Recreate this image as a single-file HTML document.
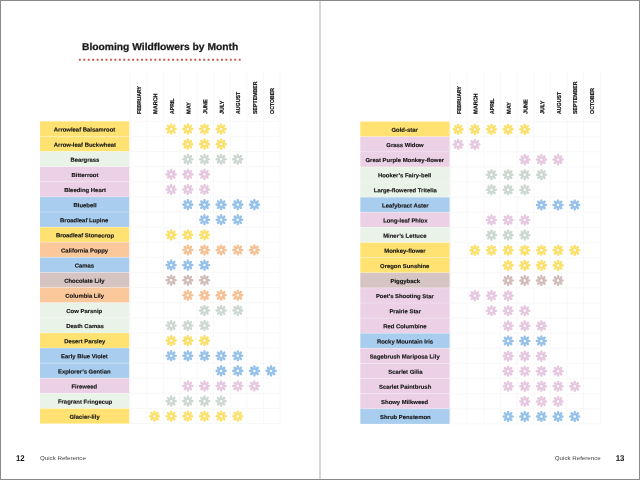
<!DOCTYPE html>
<html><head><meta charset="utf-8"><title>Blooming Wildflowers by Month</title>
<style>
html,body{margin:0;padding:0;background:#fff;}
body{width:640px;height:480px;position:relative;overflow:hidden;font-family:"Liberation Sans",sans-serif;color:#1d1d1d;}
.art{position:absolute;left:0;top:0;}
.txt{position:absolute;left:0;top:0;width:640px;height:480px;will-change:transform;}
.title{position:absolute;left:81.7px;top:40.4px;font-weight:bold;font-size:9.9px;line-height:14px;white-space:nowrap;letter-spacing:0px;transform-origin:0 50%;transform:rotate(0.03deg) scaleX(1.04);color:#1a1a1a;-webkit-text-stroke:0.25px #1a1a1a;}
.mo{position:absolute;width:0;height:0;top:113px;}
.mo span{position:absolute;left:0;top:0;display:block;white-space:nowrap;font-weight:bold;font-size:5.7px;line-height:5.7px;height:5.7px;transform-origin:0 0;color:#111;-webkit-text-stroke:0.2px #111;}
.lb{position:absolute;width:89.3px;height:15px;line-height:15px;text-align:center;white-space:nowrap;font-weight:bold;font-size:5.7px;color:#151515;}
.lb span{display:inline-block;-webkit-text-stroke:0.15px #151515;letter-spacing:0px;}
.pn{position:absolute;transform:rotate(0.03deg) scaleX(0.93);transform-origin:0 50%;font-weight:bold;font-size:8.4px;line-height:10px;top:453.2px;color:#111;letter-spacing:0px;}
.qr{position:absolute;transform:rotate(0.03deg) scaleX(1.1);font-size:5.6px;line-height:10px;top:452.8px;color:#444;white-space:nowrap;letter-spacing:0px;}
</style></head><body>
<svg class="art" width="640" height="480" viewBox="0 0 640 480">
<defs><path id="f" d="M0.00 -5.80A2.00 1.30 -90 1 0 0.00 -1.80A2.00 1.30 -90 1 0 0.00 -5.80ZM4.10 -4.10A2.00 1.30 -45 1 0 1.27 -1.27A2.00 1.30 -45 1 0 4.10 -4.10ZM5.80 0.00A2.00 1.30 0 1 0 1.80 0.00A2.00 1.30 0 1 0 5.80 0.00ZM4.10 4.10A2.00 1.30 45 1 0 1.27 1.27A2.00 1.30 45 1 0 4.10 4.10ZM0.00 5.80A2.00 1.30 90 1 0 0.00 1.80A2.00 1.30 90 1 0 0.00 5.80ZM-4.10 4.10A2.00 1.30 135 1 0 -1.27 1.27A2.00 1.30 135 1 0 -4.10 4.10ZM-5.80 0.00A2.00 1.30 180 1 0 -1.80 0.00A2.00 1.30 180 1 0 -5.80 0.00ZM-4.10 -4.10A2.00 1.30 225 1 0 -1.27 -1.27A2.00 1.30 225 1 0 -4.10 -4.10ZM0 -2.80A2.80 2.80 0 1 0 0 2.80A2.80 2.80 0 1 0 0 -2.80ZM0 -1.20A1.20 1.20 0 1 1 0 1.20A1.20 1.20 0 1 1 0 -1.20Z"/></defs>
<rect x="319" y="0" width="2" height="480" fill="#d6d6d6"/>
<line x1="78.9" y1="59.8" x2="242.5" y2="59.8" stroke="#c8574a" stroke-width="1.9" stroke-dasharray="1.9 2.540"/>
<rect x="40" y="121.30" width="89.3" height="15.115" fill="#ffe272"/>
<rect x="40" y="136.41" width="89.3" height="15.115" fill="#ffe272"/>
<rect x="40" y="151.53" width="89.3" height="15.115" fill="#eaf3e8"/>
<rect x="40" y="166.64" width="89.3" height="15.115" fill="#ebd0e6"/>
<rect x="40" y="181.76" width="89.3" height="15.115" fill="#ebd0e6"/>
<rect x="40" y="196.88" width="89.3" height="15.115" fill="#a9cdee"/>
<rect x="40" y="211.99" width="89.3" height="15.115" fill="#a9cdee"/>
<rect x="40" y="227.11" width="89.3" height="15.115" fill="#ffe272"/>
<rect x="40" y="242.22" width="89.3" height="15.115" fill="#fbc89c"/>
<rect x="40" y="257.33" width="89.3" height="15.115" fill="#a9cdee"/>
<rect x="40" y="272.45" width="89.3" height="15.115" fill="#d6c4c3"/>
<rect x="40" y="287.56" width="89.3" height="15.115" fill="#fbc89c"/>
<rect x="40" y="302.68" width="89.3" height="15.115" fill="#eaf3e8"/>
<rect x="40" y="317.80" width="89.3" height="15.115" fill="#eaf3e8"/>
<rect x="40" y="332.91" width="89.3" height="15.115" fill="#ffe272"/>
<rect x="40" y="348.02" width="89.3" height="15.115" fill="#a9cdee"/>
<rect x="40" y="363.14" width="89.3" height="15.115" fill="#a9cdee"/>
<rect x="40" y="378.25" width="89.3" height="15.115" fill="#ebd0e6"/>
<rect x="40" y="393.37" width="89.3" height="15.115" fill="#eaf3e8"/>
<rect x="40" y="408.49" width="89.3" height="15.115" fill="#ffe272"/>
<path d="M40 136.41h89.3M40 151.53h89.3M40 166.64h89.3M40 181.76h89.3M40 196.88h89.3M40 211.99h89.3M40 227.11h89.3M40 242.22h89.3M40 257.33h89.3M40 272.45h89.3M40 287.56h89.3M40 302.68h89.3M40 317.80h89.3M40 332.91h89.3M40 348.02h89.3M40 363.14h89.3M40 378.25h89.3M40 393.37h89.3M40 408.49h89.3" stroke="#fff" stroke-opacity="0.35" stroke-width="0.8" fill="none"/>
<path d="M130.20 72V423.60M146.85 72V423.60M163.50 72V423.60M180.15 72V423.60M196.80 72V423.60M213.45 72V423.60M230.10 72V423.60M246.75 72V423.60M263.40 72V423.60M280.05 72V423.60M130.20 121.30h149.85M130.20 136.41h149.85M130.20 151.53h149.85M130.20 166.64h149.85M130.20 181.76h149.85M130.20 196.88h149.85M130.20 211.99h149.85M130.20 227.11h149.85M130.20 242.22h149.85M130.20 257.33h149.85M130.20 272.45h149.85M130.20 287.56h149.85M130.20 302.68h149.85M130.20 317.80h149.85M130.20 332.91h149.85M130.20 348.02h149.85M130.20 363.14h149.85M130.20 378.25h149.85M130.20 393.37h149.85M130.20 408.49h149.85M130.20 423.60h149.85" stroke="#f5f5f5" stroke-width="0.75" fill="none"/>
<g fill="#fbe06c">
<use href="#f" x="171.17" y="129.06"/>
<use href="#f" x="187.82" y="129.06"/>
<use href="#f" x="204.47" y="129.06"/>
<use href="#f" x="221.12" y="129.06"/>
</g>
<g fill="#fbe06c">
<use href="#f" x="187.82" y="144.17"/>
<use href="#f" x="204.47" y="144.17"/>
<use href="#f" x="221.12" y="144.17"/>
</g>
<g fill="#ccd8d0">
<use href="#f" x="187.82" y="159.29"/>
<use href="#f" x="204.47" y="159.29"/>
<use href="#f" x="221.12" y="159.29"/>
<use href="#f" x="237.77" y="159.29"/>
</g>
<g fill="#e6c7e0">
<use href="#f" x="171.17" y="174.40"/>
<use href="#f" x="187.82" y="174.40"/>
<use href="#f" x="204.47" y="174.40"/>
</g>
<g fill="#e6c7e0">
<use href="#f" x="171.17" y="189.52"/>
<use href="#f" x="187.82" y="189.52"/>
<use href="#f" x="204.47" y="189.52"/>
</g>
<g fill="#96c1e9">
<use href="#f" x="187.82" y="204.63"/>
<use href="#f" x="204.47" y="204.63"/>
<use href="#f" x="221.12" y="204.63"/>
<use href="#f" x="237.77" y="204.63"/>
<use href="#f" x="254.42" y="204.63"/>
</g>
<g fill="#96c1e9">
<use href="#f" x="204.47" y="219.75"/>
<use href="#f" x="221.12" y="219.75"/>
<use href="#f" x="237.77" y="219.75"/>
</g>
<g fill="#fbe06c">
<use href="#f" x="171.17" y="234.86"/>
<use href="#f" x="187.82" y="234.86"/>
<use href="#f" x="204.47" y="234.86"/>
</g>
<g fill="#f5c094">
<use href="#f" x="187.82" y="249.98"/>
<use href="#f" x="204.47" y="249.98"/>
<use href="#f" x="221.12" y="249.98"/>
<use href="#f" x="237.77" y="249.98"/>
<use href="#f" x="254.42" y="249.98"/>
</g>
<g fill="#96c1e9">
<use href="#f" x="171.17" y="265.09"/>
<use href="#f" x="187.82" y="265.09"/>
<use href="#f" x="204.47" y="265.09"/>
</g>
<g fill="#d2bcb9">
<use href="#f" x="171.17" y="280.21"/>
<use href="#f" x="187.82" y="280.21"/>
<use href="#f" x="204.47" y="280.21"/>
</g>
<g fill="#f5c094">
<use href="#f" x="187.82" y="295.32"/>
<use href="#f" x="204.47" y="295.32"/>
<use href="#f" x="221.12" y="295.32"/>
<use href="#f" x="237.77" y="295.32"/>
</g>
<g fill="#ccd8d0">
<use href="#f" x="204.47" y="310.44"/>
<use href="#f" x="221.12" y="310.44"/>
<use href="#f" x="237.77" y="310.44"/>
</g>
<g fill="#ccd8d0">
<use href="#f" x="171.17" y="325.55"/>
<use href="#f" x="187.82" y="325.55"/>
<use href="#f" x="204.47" y="325.55"/>
</g>
<g fill="#fbe06c">
<use href="#f" x="171.17" y="340.67"/>
<use href="#f" x="187.82" y="340.67"/>
<use href="#f" x="204.47" y="340.67"/>
</g>
<g fill="#96c1e9">
<use href="#f" x="171.17" y="355.78"/>
<use href="#f" x="187.82" y="355.78"/>
<use href="#f" x="204.47" y="355.78"/>
<use href="#f" x="221.12" y="355.78"/>
<use href="#f" x="237.77" y="355.78"/>
</g>
<g fill="#96c1e9">
<use href="#f" x="221.12" y="370.90"/>
<use href="#f" x="237.77" y="370.90"/>
<use href="#f" x="254.42" y="370.90"/>
<use href="#f" x="271.07" y="370.90"/>
</g>
<g fill="#e6c7e0">
<use href="#f" x="187.82" y="386.01"/>
<use href="#f" x="204.47" y="386.01"/>
<use href="#f" x="221.12" y="386.01"/>
<use href="#f" x="237.77" y="386.01"/>
<use href="#f" x="254.42" y="386.01"/>
</g>
<g fill="#ccd8d0">
<use href="#f" x="171.17" y="401.13"/>
<use href="#f" x="187.82" y="401.13"/>
<use href="#f" x="204.47" y="401.13"/>
<use href="#f" x="221.12" y="401.13"/>
</g>
<g fill="#fbe06c">
<use href="#f" x="154.52" y="416.24"/>
<use href="#f" x="171.17" y="416.24"/>
<use href="#f" x="187.82" y="416.24"/>
<use href="#f" x="204.47" y="416.24"/>
<use href="#f" x="221.12" y="416.24"/>
<use href="#f" x="237.77" y="416.24"/>
</g>
<rect x="360.3" y="121.60" width="89.3" height="15.115" fill="#ffe272"/>
<rect x="360.3" y="136.72" width="89.3" height="15.115" fill="#ebd0e6"/>
<rect x="360.3" y="151.83" width="89.3" height="15.115" fill="#ebd0e6"/>
<rect x="360.3" y="166.94" width="89.3" height="15.115" fill="#eaf3e8"/>
<rect x="360.3" y="182.06" width="89.3" height="15.115" fill="#eaf3e8"/>
<rect x="360.3" y="197.18" width="89.3" height="15.115" fill="#a9cdee"/>
<rect x="360.3" y="212.29" width="89.3" height="15.115" fill="#ebd0e6"/>
<rect x="360.3" y="227.41" width="89.3" height="15.115" fill="#eaf3e8"/>
<rect x="360.3" y="242.52" width="89.3" height="15.115" fill="#ffe272"/>
<rect x="360.3" y="257.63" width="89.3" height="15.115" fill="#ffe272"/>
<rect x="360.3" y="272.75" width="89.3" height="15.115" fill="#d6c4c3"/>
<rect x="360.3" y="287.87" width="89.3" height="15.115" fill="#ebd0e6"/>
<rect x="360.3" y="302.98" width="89.3" height="15.115" fill="#ebd0e6"/>
<rect x="360.3" y="318.10" width="89.3" height="15.115" fill="#ebd0e6"/>
<rect x="360.3" y="333.21" width="89.3" height="15.115" fill="#a9cdee"/>
<rect x="360.3" y="348.32" width="89.3" height="15.115" fill="#ebd0e6"/>
<rect x="360.3" y="363.44" width="89.3" height="15.115" fill="#ebd0e6"/>
<rect x="360.3" y="378.55" width="89.3" height="15.115" fill="#ebd0e6"/>
<rect x="360.3" y="393.67" width="89.3" height="15.115" fill="#ebd0e6"/>
<rect x="360.3" y="408.78" width="89.3" height="15.115" fill="#a9cdee"/>
<path d="M360.3 136.72h89.3M360.3 151.83h89.3M360.3 166.94h89.3M360.3 182.06h89.3M360.3 197.18h89.3M360.3 212.29h89.3M360.3 227.41h89.3M360.3 242.52h89.3M360.3 257.63h89.3M360.3 272.75h89.3M360.3 287.87h89.3M360.3 302.98h89.3M360.3 318.10h89.3M360.3 333.21h89.3M360.3 348.32h89.3M360.3 363.44h89.3M360.3 378.55h89.3M360.3 393.67h89.3M360.3 408.78h89.3" stroke="#fff" stroke-opacity="0.35" stroke-width="0.8" fill="none"/>
<path d="M450.50 72V423.90M467.15 72V423.90M483.80 72V423.90M500.45 72V423.90M517.10 72V423.90M533.75 72V423.90M550.40 72V423.90M567.05 72V423.90M583.70 72V423.90M600.35 72V423.90M450.50 121.60h149.85M450.50 136.72h149.85M450.50 151.83h149.85M450.50 166.94h149.85M450.50 182.06h149.85M450.50 197.18h149.85M450.50 212.29h149.85M450.50 227.41h149.85M450.50 242.52h149.85M450.50 257.63h149.85M450.50 272.75h149.85M450.50 287.87h149.85M450.50 302.98h149.85M450.50 318.10h149.85M450.50 333.21h149.85M450.50 348.32h149.85M450.50 363.44h149.85M450.50 378.55h149.85M450.50 393.67h149.85M450.50 408.78h149.85M450.50 423.90h149.85" stroke="#f5f5f5" stroke-width="0.75" fill="none"/>
<g fill="#fbe06c">
<use href="#f" x="458.18" y="129.36"/>
<use href="#f" x="474.83" y="129.36"/>
<use href="#f" x="491.48" y="129.36"/>
<use href="#f" x="508.12" y="129.36"/>
<use href="#f" x="524.77" y="129.36"/>
</g>
<g fill="#e6c7e0">
<use href="#f" x="458.18" y="144.47"/>
<use href="#f" x="474.83" y="144.47"/>
</g>
<g fill="#e6c7e0">
<use href="#f" x="524.77" y="159.59"/>
<use href="#f" x="541.43" y="159.59"/>
<use href="#f" x="558.08" y="159.59"/>
</g>
<g fill="#ccd8d0">
<use href="#f" x="491.48" y="174.70"/>
<use href="#f" x="508.12" y="174.70"/>
<use href="#f" x="524.77" y="174.70"/>
<use href="#f" x="541.43" y="174.70"/>
</g>
<g fill="#ccd8d0">
<use href="#f" x="491.48" y="189.82"/>
<use href="#f" x="508.12" y="189.82"/>
<use href="#f" x="524.77" y="189.82"/>
</g>
<g fill="#96c1e9">
<use href="#f" x="541.43" y="204.93"/>
<use href="#f" x="558.08" y="204.93"/>
<use href="#f" x="574.73" y="204.93"/>
</g>
<g fill="#e6c7e0">
<use href="#f" x="491.48" y="220.05"/>
<use href="#f" x="508.12" y="220.05"/>
<use href="#f" x="524.77" y="220.05"/>
</g>
<g fill="#ccd8d0">
<use href="#f" x="491.48" y="235.16"/>
<use href="#f" x="508.12" y="235.16"/>
<use href="#f" x="524.77" y="235.16"/>
</g>
<g fill="#fbe06c">
<use href="#f" x="474.83" y="250.28"/>
<use href="#f" x="491.48" y="250.28"/>
<use href="#f" x="508.12" y="250.28"/>
<use href="#f" x="524.77" y="250.28"/>
<use href="#f" x="541.43" y="250.28"/>
<use href="#f" x="558.08" y="250.28"/>
<use href="#f" x="574.73" y="250.28"/>
</g>
<g fill="#fbe06c">
<use href="#f" x="508.12" y="265.39"/>
<use href="#f" x="524.77" y="265.39"/>
<use href="#f" x="541.43" y="265.39"/>
<use href="#f" x="558.08" y="265.39"/>
</g>
<g fill="#d2bcb9">
<use href="#f" x="508.12" y="280.51"/>
<use href="#f" x="524.77" y="280.51"/>
<use href="#f" x="541.43" y="280.51"/>
<use href="#f" x="558.08" y="280.51"/>
</g>
<g fill="#e6c7e0">
<use href="#f" x="474.83" y="295.62"/>
<use href="#f" x="491.48" y="295.62"/>
<use href="#f" x="508.12" y="295.62"/>
</g>
<g fill="#e6c7e0">
<use href="#f" x="491.48" y="310.74"/>
<use href="#f" x="508.12" y="310.74"/>
<use href="#f" x="524.77" y="310.74"/>
</g>
<g fill="#e6c7e0">
<use href="#f" x="508.12" y="325.85"/>
<use href="#f" x="524.77" y="325.85"/>
<use href="#f" x="541.43" y="325.85"/>
</g>
<g fill="#96c1e9">
<use href="#f" x="508.12" y="340.97"/>
<use href="#f" x="524.77" y="340.97"/>
<use href="#f" x="541.43" y="340.97"/>
</g>
<g fill="#e6c7e0">
<use href="#f" x="508.12" y="356.08"/>
<use href="#f" x="524.77" y="356.08"/>
<use href="#f" x="541.43" y="356.08"/>
</g>
<g fill="#e6c7e0">
<use href="#f" x="508.12" y="371.20"/>
<use href="#f" x="524.77" y="371.20"/>
<use href="#f" x="541.43" y="371.20"/>
<use href="#f" x="558.08" y="371.20"/>
</g>
<g fill="#e6c7e0">
<use href="#f" x="508.12" y="386.31"/>
<use href="#f" x="524.77" y="386.31"/>
<use href="#f" x="541.43" y="386.31"/>
<use href="#f" x="558.08" y="386.31"/>
<use href="#f" x="574.73" y="386.31"/>
</g>
<g fill="#e6c7e0">
<use href="#f" x="524.77" y="401.43"/>
<use href="#f" x="541.43" y="401.43"/>
<use href="#f" x="558.08" y="401.43"/>
</g>
<g fill="#96c1e9">
<use href="#f" x="508.12" y="416.54"/>
<use href="#f" x="524.77" y="416.54"/>
<use href="#f" x="541.43" y="416.54"/>
<use href="#f" x="558.08" y="416.54"/>
<use href="#f" x="574.73" y="416.54"/>
</g>
<rect x="0.5" y="0.5" width="639" height="479" fill="none" stroke="#8a8a8a" stroke-width="1"/>
</svg>
<div class="txt">
<div class="title">Blooming Wildflowers by Month</div>
<div class="mo" style="left:139px"><span style="transform:translate(0.42px,0.9px) rotate(-89.97deg) scaleX(0.8822) translateY(-50%)">FEBRUARY</span></div>
<div class="mo" style="left:156px"><span style="transform:translate(0.07px,0.9px) rotate(-89.97deg) scaleX(0.9646) translateY(-50%)">MARCH</span></div>
<div class="mo" style="left:172px"><span style="transform:translate(0.72px,0.9px) rotate(-89.97deg) scaleX(0.8954) translateY(-50%)">APRIL</span></div>
<div class="mo" style="left:189px"><span style="transform:translate(0.37px,0.9px) rotate(-89.97deg) scaleX(0.9667) translateY(-50%)">MAY</span></div>
<div class="mo" style="left:206px"><span style="transform:translate(0.03px,0.9px) rotate(-89.97deg) scaleX(0.9616) translateY(-50%)">JUNE</span></div>
<div class="mo" style="left:222px"><span style="transform:translate(0.67px,0.9px) rotate(-89.97deg) scaleX(0.9463) translateY(-50%)">JULY</span></div>
<div class="mo" style="left:239px"><span style="transform:translate(0.32px,0.9px) rotate(-89.97deg) scaleX(0.9158) translateY(-50%)">AUGUST</span></div>
<div class="mo" style="left:255px"><span style="transform:translate(0.97px,0.9px) rotate(-89.97deg) scaleX(0.9158) translateY(-50%)">SEPTEMBER</span></div>
<div class="mo" style="left:272px"><span style="transform:translate(0.62px,0.9px) rotate(-89.97deg) scaleX(0.9158) translateY(-50%)">OCTOBER</span></div>
<div class="lb" style="left:40px;top:122px"><span style="transform:translateY(0.56px) rotate(0.03deg) scaleX(1.04)">Arrowleaf Balsamroot</span></div>
<div class="lb" style="left:40px;top:137px"><span style="transform:translateY(0.67px) rotate(0.03deg) scaleX(1.04)">Arrow-leaf Buckwheat</span></div>
<div class="lb" style="left:40px;top:152px"><span style="transform:translateY(0.79px) rotate(0.03deg) scaleX(1.04)">Beargrass</span></div>
<div class="lb" style="left:40px;top:167px"><span style="transform:translateY(0.90px) rotate(0.03deg) scaleX(1.04)">Bitterroot</span></div>
<div class="lb" style="left:40px;top:183px"><span style="transform:translateY(0.02px) rotate(0.03deg) scaleX(1.04)">Bleeding Heart</span></div>
<div class="lb" style="left:40px;top:198px"><span style="transform:translateY(0.13px) rotate(0.03deg) scaleX(1.04)">Bluebell</span></div>
<div class="lb" style="left:40px;top:213px"><span style="transform:translateY(0.25px) rotate(0.03deg) scaleX(1.04)">Broadleaf Lupine</span></div>
<div class="lb" style="left:40px;top:228px"><span style="transform:translateY(0.37px) rotate(0.03deg) scaleX(1.04)">Broadleaf Stonecrop</span></div>
<div class="lb" style="left:40px;top:243px"><span style="transform:translateY(0.48px) rotate(0.03deg) scaleX(1.04)">California Poppy</span></div>
<div class="lb" style="left:40px;top:258px"><span style="transform:translateY(0.59px) rotate(0.03deg) scaleX(1.04)">Camas</span></div>
<div class="lb" style="left:40px;top:273px"><span style="transform:translateY(0.71px) rotate(0.03deg) scaleX(1.04)">Chocolate Lily</span></div>
<div class="lb" style="left:40px;top:288px"><span style="transform:translateY(0.82px) rotate(0.03deg) scaleX(1.04)">Columbia Lily</span></div>
<div class="lb" style="left:40px;top:303px"><span style="transform:translateY(0.94px) rotate(0.03deg) scaleX(1.04)">Cow Parsnip</span></div>
<div class="lb" style="left:40px;top:319px"><span style="transform:translateY(0.06px) rotate(0.03deg) scaleX(1.04)">Death Camas</span></div>
<div class="lb" style="left:40px;top:334px"><span style="transform:translateY(0.17px) rotate(0.03deg) scaleX(1.04)">Desert Parsley</span></div>
<div class="lb" style="left:40px;top:349px"><span style="transform:translateY(0.28px) rotate(0.03deg) scaleX(1.04)">Early Blue Violet</span></div>
<div class="lb" style="left:40px;top:364px"><span style="transform:translateY(0.40px) rotate(0.03deg) scaleX(1.04)">Explorer’s Gentian</span></div>
<div class="lb" style="left:40px;top:379px"><span style="transform:translateY(0.51px) rotate(0.03deg) scaleX(1.04)">Fireweed</span></div>
<div class="lb" style="left:40px;top:394px"><span style="transform:translateY(0.63px) rotate(0.03deg) scaleX(1.04)">Fragrant Fringecup</span></div>
<div class="lb" style="left:40px;top:409px"><span style="transform:translateY(0.75px) rotate(0.03deg) scaleX(1.04)">Glacier-lily</span></div>
<div class="mo" style="left:459px"><span style="transform:translate(0.72px,0.9px) rotate(-89.97deg) scaleX(0.8822) translateY(-50%)">FEBRUARY</span></div>
<div class="mo" style="left:476px"><span style="transform:translate(0.38px,0.9px) rotate(-89.97deg) scaleX(0.9646) translateY(-50%)">MARCH</span></div>
<div class="mo" style="left:493px"><span style="transform:translate(0.02px,0.9px) rotate(-89.97deg) scaleX(0.8954) translateY(-50%)">APRIL</span></div>
<div class="mo" style="left:509px"><span style="transform:translate(0.67px,0.9px) rotate(-89.97deg) scaleX(0.9667) translateY(-50%)">MAY</span></div>
<div class="mo" style="left:526px"><span style="transform:translate(0.32px,0.9px) rotate(-89.97deg) scaleX(0.9616) translateY(-50%)">JUNE</span></div>
<div class="mo" style="left:542px"><span style="transform:translate(0.98px,0.9px) rotate(-89.97deg) scaleX(0.9463) translateY(-50%)">JULY</span></div>
<div class="mo" style="left:559px"><span style="transform:translate(0.62px,0.9px) rotate(-89.97deg) scaleX(0.9158) translateY(-50%)">AUGUST</span></div>
<div class="mo" style="left:576px"><span style="transform:translate(0.27px,0.9px) rotate(-89.97deg) scaleX(0.9158) translateY(-50%)">SEPTEMBER</span></div>
<div class="mo" style="left:592px"><span style="transform:translate(0.92px,0.9px) rotate(-89.97deg) scaleX(0.9158) translateY(-50%)">OCTOBER</span></div>
<div class="lb" style="left:360.3px;top:122px"><span style="transform:translateY(0.86px) rotate(0.03deg) scaleX(1.04)">Gold-star</span></div>
<div class="lb" style="left:360.3px;top:137px"><span style="transform:translateY(0.97px) rotate(0.03deg) scaleX(1.04)">Grass Widow</span></div>
<div class="lb" style="left:360.3px;top:153px"><span style="transform:translateY(0.09px) rotate(0.03deg) scaleX(1.04)">Great Purple Monkey-flower</span></div>
<div class="lb" style="left:360.3px;top:168px"><span style="transform:translateY(0.20px) rotate(0.03deg) scaleX(1.04)">Hooker’s Fairy-bell</span></div>
<div class="lb" style="left:360.3px;top:183px"><span style="transform:translateY(0.32px) rotate(0.03deg) scaleX(1.04)">Large-flowered Tritelia</span></div>
<div class="lb" style="left:360.3px;top:198px"><span style="transform:translateY(0.44px) rotate(0.03deg) scaleX(1.04)">Leafybract Aster</span></div>
<div class="lb" style="left:360.3px;top:213px"><span style="transform:translateY(0.55px) rotate(0.03deg) scaleX(1.04)">Long-leaf Phlox</span></div>
<div class="lb" style="left:360.3px;top:228px"><span style="transform:translateY(0.66px) rotate(0.03deg) scaleX(1.04)">Miner’s Lettuce</span></div>
<div class="lb" style="left:360.3px;top:243px"><span style="transform:translateY(0.78px) rotate(0.03deg) scaleX(1.04)">Monkey-flower</span></div>
<div class="lb" style="left:360.3px;top:258px"><span style="transform:translateY(0.89px) rotate(0.03deg) scaleX(1.04)">Oregon Sunshine</span></div>
<div class="lb" style="left:360.3px;top:274px"><span style="transform:translateY(0.01px) rotate(0.03deg) scaleX(1.04)">Piggyback</span></div>
<div class="lb" style="left:360.3px;top:289px"><span style="transform:translateY(0.12px) rotate(0.03deg) scaleX(1.04)">Poet’s Shooting Star</span></div>
<div class="lb" style="left:360.3px;top:304px"><span style="transform:translateY(0.24px) rotate(0.03deg) scaleX(1.04)">Prairie Star</span></div>
<div class="lb" style="left:360.3px;top:319px"><span style="transform:translateY(0.36px) rotate(0.03deg) scaleX(1.04)">Red Columbine</span></div>
<div class="lb" style="left:360.3px;top:334px"><span style="transform:translateY(0.47px) rotate(0.03deg) scaleX(1.04)">Rocky Mountain Iris</span></div>
<div class="lb" style="left:360.3px;top:349px"><span style="transform:translateY(0.58px) rotate(0.03deg) scaleX(1.04)">Sagebrush Mariposa Lily</span></div>
<div class="lb" style="left:360.3px;top:364px"><span style="transform:translateY(0.70px) rotate(0.03deg) scaleX(1.04)">Scarlet Gilia</span></div>
<div class="lb" style="left:360.3px;top:379px"><span style="transform:translateY(0.81px) rotate(0.03deg) scaleX(1.04)">Scarlet Paintbrush</span></div>
<div class="lb" style="left:360.3px;top:394px"><span style="transform:translateY(0.93px) rotate(0.03deg) scaleX(1.04)">Showy Milkweed</span></div>
<div class="lb" style="left:360.3px;top:410px"><span style="transform:translateY(0.04px) rotate(0.03deg) scaleX(1.04)">Shrub Penstemon</span></div>
<div class="pn" style="left:15.5px">12</div>
<div class="qr" style="left:39.6px;transform-origin:0 50%">Quick Reference</div>
<div class="qr" style="right:39.7px;transform-origin:100% 50%">Quick Reference</div>
<div class="pn" style="right:16.0px;transform-origin:100% 50%">13</div>
</div>
</body></html>
